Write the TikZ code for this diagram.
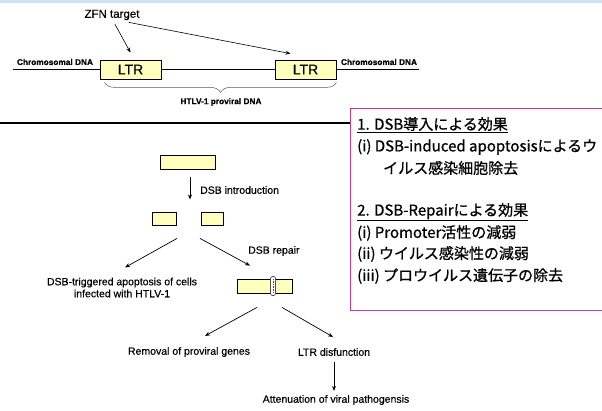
\documentclass[tikz,border=0pt]{standalone}
\usepackage{fontspec}
\setmainfont[FakeBold=0.4]{Liberation Sans}
\newfontfamily\jpfont[FakeBold=0.8]{Noto Sans CJK JP}
\usetikzlibrary{arrows.meta,calc,positioning,decorations.pathreplacing}
\definecolor{ltrfill}{RGB}{255,255,190}
\definecolor{boxpink}{RGB}{200,60,140}
\definecolor{stripblue}{RGB}{205,225,245}

\begin{document}
\begin{tikzpicture}[x=1pt, y=-1pt]
	\tikzstyle{every node}=[font=\fontsize{10.5}{12}\selectfont, inner sep=1pt]
	\tikzstyle{ltrbox}=[draw, line width=0.8pt, fill=ltrfill, minimum width=61pt, minimum height=19pt, inner sep=0pt, font=\fontsize{14}{14}\selectfont]
	\tikzstyle{piece}=[draw, line width=0.8pt, fill=ltrfill, minimum height=14pt, inner sep=0pt]
	\tikzstyle{small}=[font=\fontsize{8.3}{10}\selectfont\bfseries]
	\tikzstyle{arr}=[line width=0.7pt, ->, >={Stealth[length=5pt,width=4pt]}]
	\tikzstyle{jp}=[anchor=west, font=\fontsize{15}{18}\jpfont]
	\useasboundingbox (0,0) rectangle (602,410);
	\fill [stripblue] (0,0) rectangle (602,3);
	% proviral DNA in the chromosome
	\node [font=\fontsize{11.5}{13}\selectfont] (zfn) at (112,15) {ZFN target};
	\node [ltrbox] (ltrA) at (130.5,69.5) {LTR};
	\node [ltrbox] (ltrB) at (305.5,69.5) {LTR};
	\coordinate (dnaL) at (13,69.5);
	\coordinate (dnaR) at (419,69.5);
	\draw [line width=1.6pt] (dnaL) -- (ltrA.west) (ltrA.east) -- (ltrB.west) (ltrB.east) -- (dnaR);
	\node [small] (chrL) at (55,62) {Chromosomal DNA};
	\node [small] (chrR) at (379,62) {Chromosomal DNA};
	\draw [arr, line width=0.6pt] ([xshift=3pt,yshift=-3pt]zfn.south) -- ([yshift=7pt]ltrA.north);
	\draw [arr, line width=0.6pt] ([xshift=-12pt,yshift=-1pt]zfn.south east) -- ([xshift=-15pt,yshift=6pt]ltrB.north);
	\draw [line width=0.5pt, gray!70!black, decorate, decoration={brace, mirror, amplitude=10pt}] ([xshift=5pt,yshift=-3pt]ltrA.south west) -- ([yshift=-3pt]ltrB.south east);
	\node [small] (provir) at (221,102) {HTLV-1 proviral DNA};
	% separator and summary box
	\draw [line width=1.2pt] (0,123) -- (350,123);
	\draw [boxpink, line width=1pt] (602,108) -- (350,108) -- (350,310) -- (602,310);
	\node [jp] (effA) at (356,125) {\underline{1. DSB導入による効果}};
	\node [jp] (effA1) at (356,147) {(i) DSB-induced apoptosisによるウ};
	\node [jp] (effA2) at (382,168) {イルス感染細胞除去};
	\node [jp] (effB) at (356,212) {\underline{2. DSB-Repairによる効果}};
	\node [jp] (effB1) at (356,233) {(i) Promoter活性の減弱};
	\node [jp] (effB2) at (356,254) {(ii) ウイルス感染性の減弱};
	\node [jp] (effB3) at (356,276) {(iii) プロウイルス遺伝子の除去};
	% DSB flow
	\node [piece, minimum width=55pt] (whole) at (187.5,162) {};
	\node [piece, minimum width=24pt, minimum height=13pt] (halfL) at (164,218.5) {};
	\node [piece, minimum width=22pt, minimum height=13pt] (halfR) at (212,218.5) {};
	\draw [arr] ([xshift=2.5pt,yshift=-8pt]whole.south) -- ([xshift=2.5pt,yshift=-30pt]whole.south);
	\node [anchor=west] (intro) at (199,190) {DSB introduction};
	\node [align=center] (apop) at (122,287.5) {DSB-triggered apoptosis of cells\\infected with HTLV-1};
	\node [piece, minimum width=55pt] (rep) at (264.5,286) {};
	\node [draw=gray!60!black, line width=0.7pt, fill=white, rounded corners=2pt, minimum width=5pt, minimum height=19pt, inner sep=0pt] (seam) at ([xshift=8.5pt]rep.center) {};
	\draw [gray!60!black, line width=0.6pt, densely dotted, shorten <=3pt, shorten >=3pt] (seam.north) -- (seam.south);
	\draw [arr] ([xshift=13pt,yshift=-13pt]halfL.south) -- ([xshift=3pt,yshift=9pt]apop.north);
	\draw [arr] ([xshift=-12pt,yshift=-13pt]halfR.south) -- ([xshift=-14.5pt,yshift=13pt]rep.north);
	\node [anchor=west] (repair) at (247,251) {DSB repair};
	\node (removal) at (189,352) {Removal of proviral genes};
	\node (ltrdis) at (334,352) {LTR disfunction};
	\node (atten) at (336,400) {Attenuation of viral pathogensis};
	\draw [arr] ([xshift=-7.5pt,yshift=-14pt]rep.south) -- ([xshift=16pt,yshift=10pt]removal.north);
	\draw [arr] ([xshift=17.5pt,yshift=-14pt]rep.south) -- ([xshift=-1pt,yshift=10pt]ltrdis.north);
	\draw [arr] ([yshift=-5pt]ltrdis.south) -- ([xshift=-2pt,yshift=3pt]atten.north);
\end{tikzpicture}
\end{document}
